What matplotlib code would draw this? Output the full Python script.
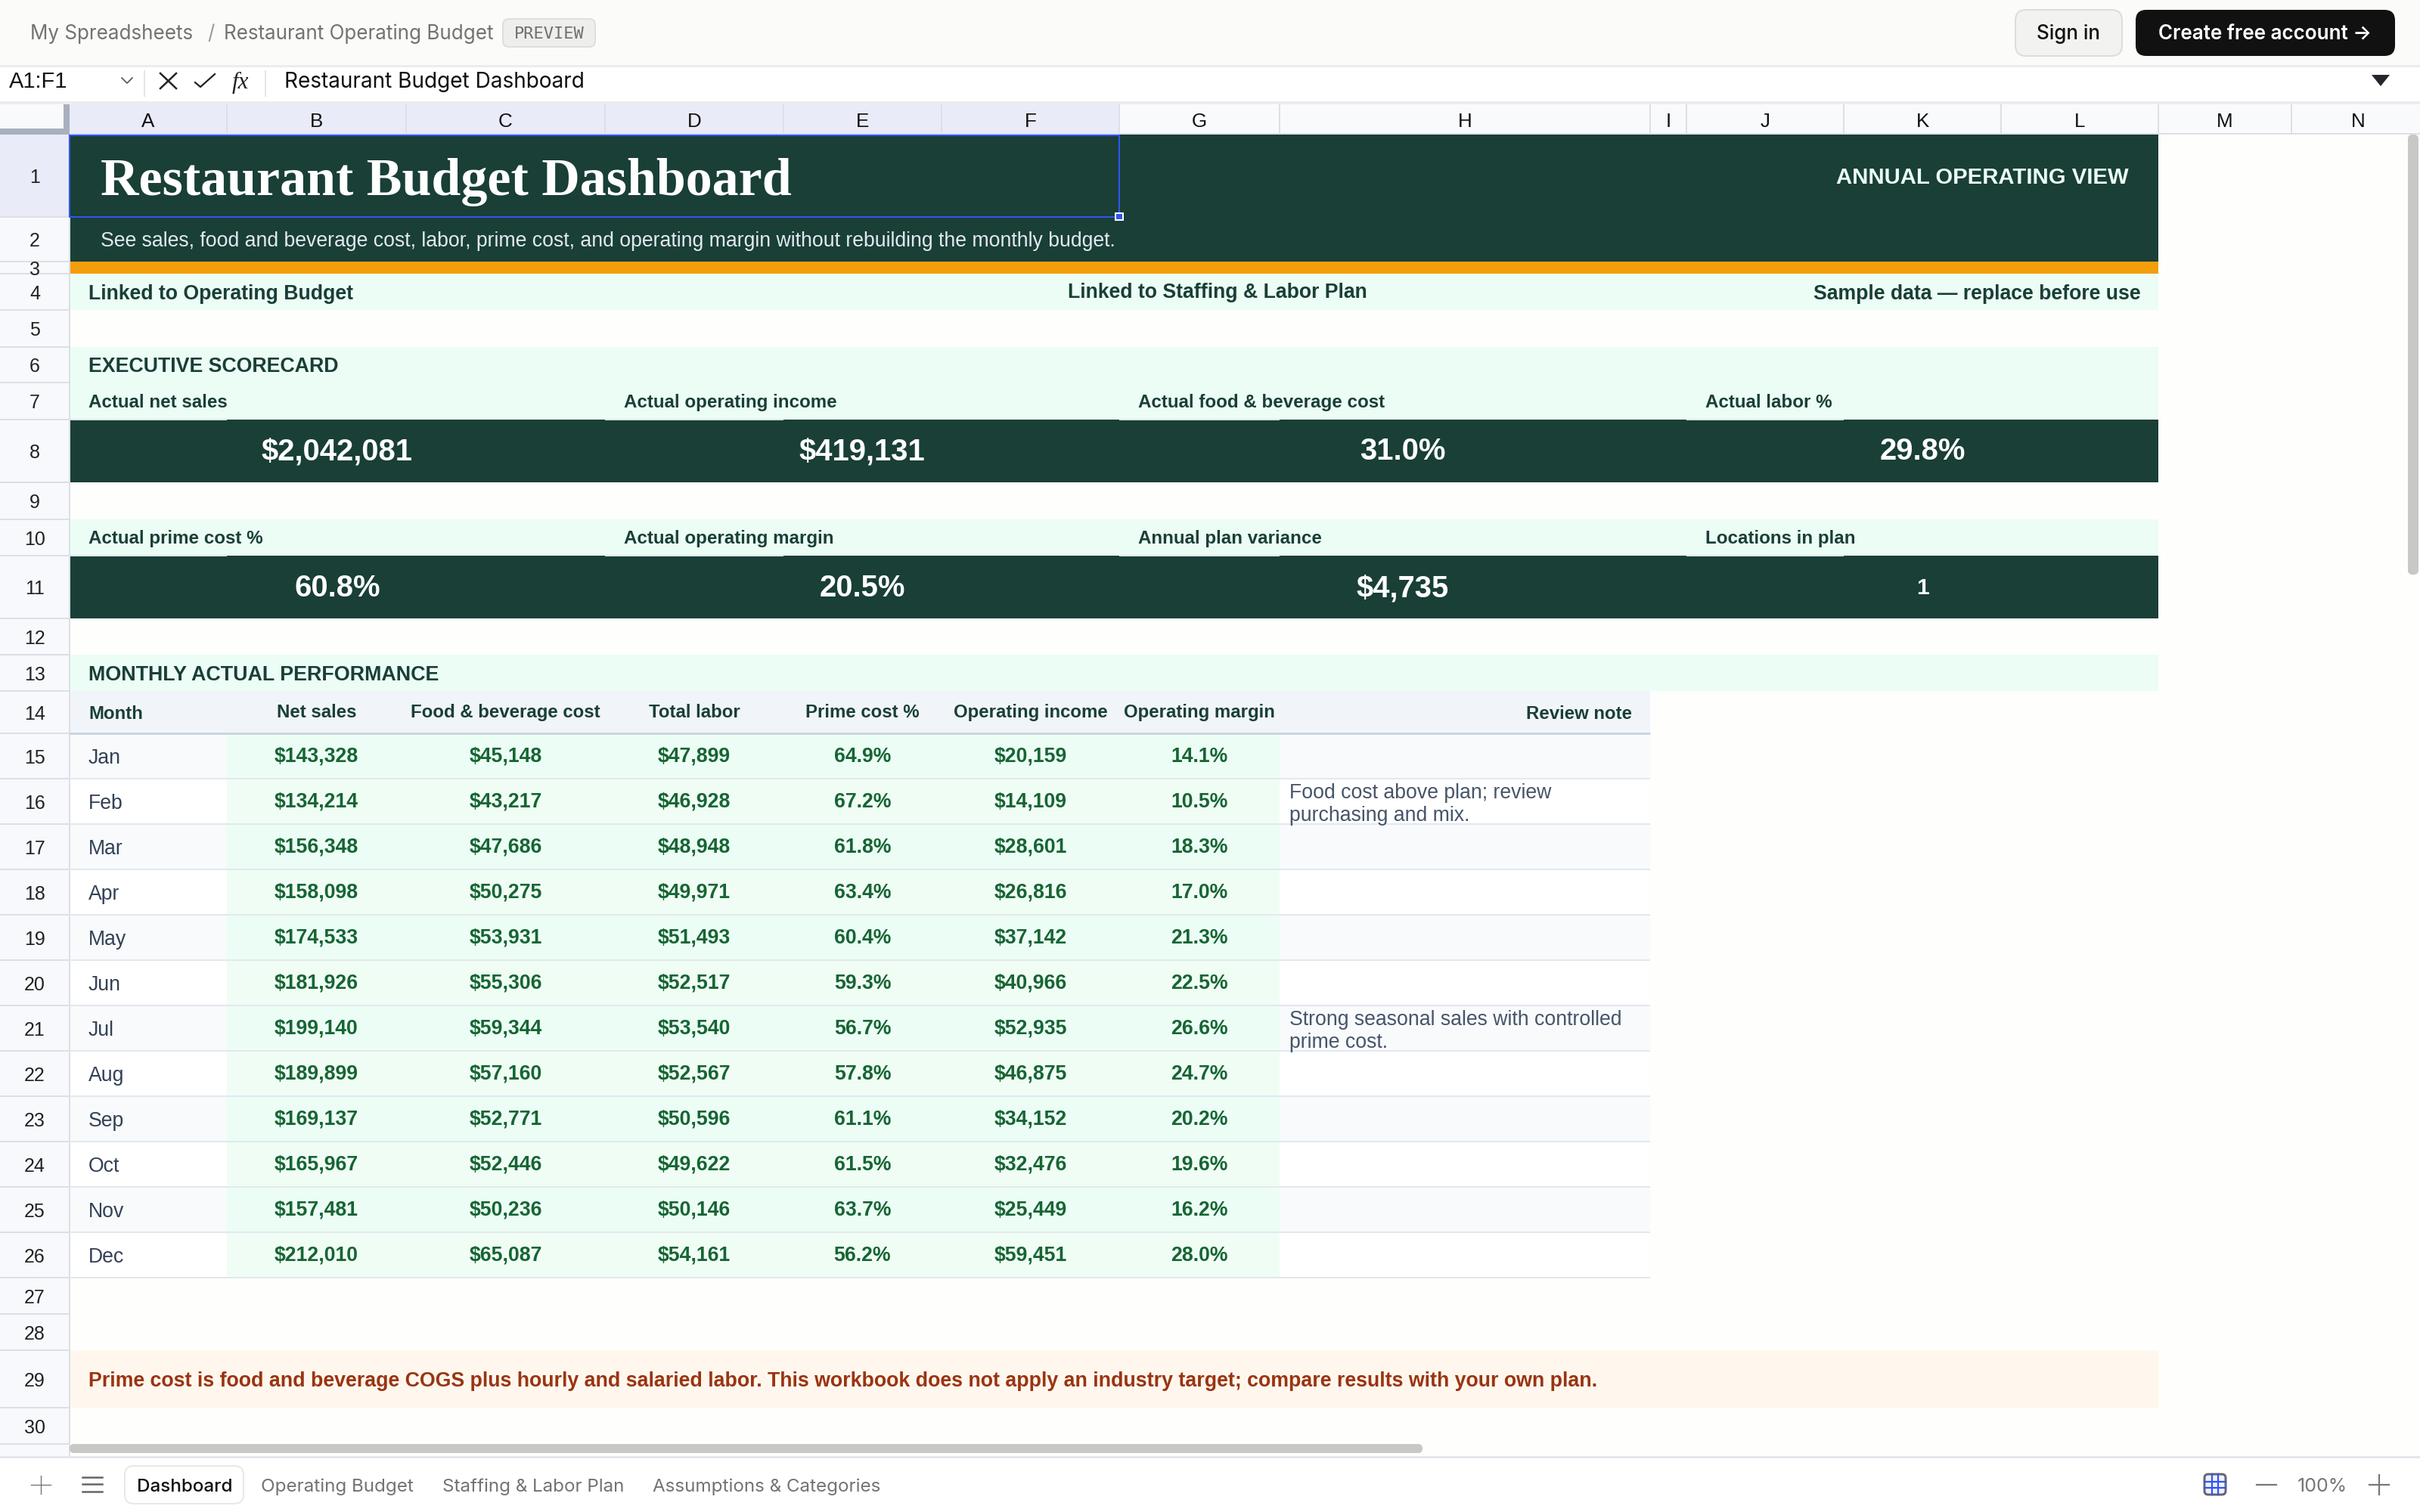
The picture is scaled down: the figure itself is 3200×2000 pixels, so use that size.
import matplotlib
matplotlib.use("Agg")
import matplotlib.pyplot as plt
from matplotlib.patches import Rectangle, FancyBboxPatch, Polygon

# column + row layout of the sheet, in output pixels
col_names = list("ABCDEFGHIJKLMN")
col_edges = [92, 300, 537, 800, 1036, 1245, 1480, 1692, 2182, 2230, 2438, 2646, 2854, 3030, 3207]
row_edges = [178, 287, 346, 362, 410, 459, 506, 555, 638, 687, 735, 818, 866, 914, 970,
             1030, 1090, 1150, 1210, 1270, 1330, 1390, 1450, 1510, 1570, 1630, 1690,
             1738, 1786, 1862, 1910]

months = ["Jan", "Feb", "Mar", "Apr", "May", "Jun", "Jul", "Aug", "Sep", "Oct", "Nov", "Dec"]
net_sales = [143328, 134214, 156348, 158098, 174533, 181926, 199140, 189899, 169137, 165967, 157481, 212010]
food_cost = [45148, 43217, 47686, 50275, 53931, 55306, 59344, 57160, 52771, 52446, 50236, 65087]
total_labor = [47899, 46928, 48948, 49971, 51493, 52517, 53540, 52567, 50596, 49622, 50146, 54161]
prime_pct = [64.9, 67.2, 61.8, 63.4, 60.4, 59.3, 56.7, 57.8, 61.1, 61.5, 63.7, 56.2]
op_income = [20159, 14109, 28601, 26816, 37142, 40966, 52935, 46875, 34152, 32476, 25449, 59451]
op_margin = [14.1, 10.5, 18.3, 17.0, 21.3, 22.5, 26.6, 24.7, 20.2, 19.6, 16.2, 28.0]
review_notes = {"Feb": ["Food cost above plan; review", "purchasing and mix."],
                "Jul": ["Strong seasonal sales with controlled", "prime cost."]}
table_headers = ["Net sales", "Food & beverage cost", "Total labor", "Prime cost %",
                 "Operating income", "Operating margin"]

kpi_row1_labels = ["Actual net sales", "Actual operating income", "Actual food & beverage cost", "Actual labor %"]
kpi_row1_values = ["$2,042,081", "$419,131", "31.0%", "29.8%"]
kpi_row2_labels = ["Actual prime cost %", "Actual operating margin", "Annual plan variance", "Locations in plan"]
kpi_row2_values = ["60.8%", "20.5%", "$4,735", "1"]
sheet_tabs = ["Dashboard", "Operating Budget", "Staffing & Labor Plan", "Assumptions & Categories"]

DARK = "#193f37"
MINT = "#ecfdf5"
MINT2 = "#f0fdf4"
ORANGE = "#f59e0b"
GRID = "#e2e8f0"
VALUE = "#166534"
BLUE = "#2f55f0"
SANS = "Liberation Sans"
UI = "Inter"
BODY = 26.6

fig = plt.figure(figsize=(16, 10), dpi=200, facecolor="#fefefc")
ax = fig.add_axes([0, 0, 1, 1])
ax.set_xlim(0, 3200)
ax.set_ylim(2000, 0)
ax.axis("off")


def rect(x0, y0, x1, y1, color, z=1):
    p = Rectangle((x0, y0), x1 - x0, y1 - y0, facecolor=color, edgecolor="none", zorder=z)
    ax.add_patch(p)
    return p


def hline(x0, x1, y, color=GRID, lw=2, z=2):
    ax.plot([x0, x1], [y, y], color=color, lw=lw * 0.36, zorder=z, solid_capstyle="butt")


def vline(x, y0, y1, color=GRID, lw=2, z=2):
    ax.plot([x, x], [y0, y1], color=color, lw=lw * 0.36, zorder=z, solid_capstyle="butt")


def label(x, y, s, px=26, color="black", weight="normal", ha="left", family=SANS, z=5, clip=None):
    # y is the text centre; go through the baseline so every row lines up
    t = ax.text(x, y + px * 0.36, s, fontsize=px * 0.36, color=color, fontweight=weight,
                ha=ha, va="baseline", family=family, zorder=z)
    if clip is not None:
        t.set_clip_path(clip)
    return t


def round_box(x0, y0, x1, y1, face, edge="none", r=12, lw=2, z=3):
    ax.add_patch(FancyBboxPatch((x0, y0), x1 - x0, y1 - y0, boxstyle=f"round,pad=0,rounding_size={r}",
                                facecolor=face, edgecolor=edge, lw=lw * 0.36, zorder=z))


# top bar
rect(0, 0, 3200, 86, "#fbfbfa")
rect(0, 86, 3200, 89, "#ececec")
label(40, 43, "My Spreadsheets", 26, "#73736f", family=UI)
label(274, 43, "/", 26, "#9a9a96", family=UI)
label(296, 43, "Restaurant Operating Budget", 26, "#73736f", family=UI)
round_box(665, 25, 787, 62, "#eeeeec", "#dededc", r=8)
label(726, 43, "PREVIEW", 22, "#6f6f6b", ha="center", family="DejaVu Sans Mono")
round_box(2665, 13, 2806, 74, "#f2f2f0", "#dcdcda", r=14)
label(2735, 43, "Sign in", 26, "#111111", "medium", "center", UI)
round_box(2824, 13, 3167, 74, "#111111", r=14)
label(2995, 43, "Create free account →", 26, "white", "semibold", "center", UI)

# formula bar
rect(0, 89, 3200, 134, "#ffffff")
rect(0, 134, 3200, 138, "#ececee")
label(12, 106, "A1:F1", 29, "#111111")
ax.plot([161, 168, 175], [103, 110, 103], color="#555555", lw=0.6, zorder=5)
vline(191, 93, 128, "#e6e6e6")
ax.plot([212, 233], [97, 117], color="#222222", lw=0.9, zorder=5)
ax.plot([212, 233], [117, 97], color="#222222", lw=0.9, zorder=5)
ax.plot([258, 265, 284], [109, 115, 98], color="#222222", lw=0.8, zorder=5)
label(307, 106, "fx", 31, "#222222", family="Liberation Serif").set_style("italic")
vline(351, 93, 128, "#e6e6e6")
label(376, 106, "Restaurant Budget Dashboard", 28, "#111111", family=UI)
ax.add_patch(Polygon([[3136, 99], [3160, 99], [3148, 114]], closed=True, facecolor="#24262d", zorder=5))

# empty sheet background, headers
rect(92, 178, 3200, 1927, "#fefefc", 0)
rect(0, 138, 3200, 178, "#f9fafc")
rect(0, 178, 92, 1927, "#f8f9fc")
rect(col_edges[0], 138, col_edges[6], 178, "#e9ebf8", 2)
rect(0, 178, 92, 287, "#e9ebf8", 2)
rect(84, 138, 92, 178, "#a9afbe", 3)
rect(0, 170, 92, 178, "#a9afbe", 3)
hline(0, 3200, 177, "#dddfe5")
vline(92, 178, 1927, "#dddfe5")

for i, name in enumerate(col_names):
    label((col_edges[i] + col_edges[i + 1]) / 2, 159, name, 26, "#111111", ha="center")
    vline(col_edges[i + 1], 138, 178, "#dddfe5")

for i in range(len(row_edges) - 1):
    label(46, (row_edges[i] + row_edges[i + 1]) / 2 + 1, str(i + 1), 25, "#222222", ha="center")
    hline(0, 92, row_edges[i + 1], "#dddfe5")

left, right = col_edges[0], col_edges[12]

# banner
rect(left, 178, right, 346, DARK)
rect(left, 346, right, 362, ORANGE)
label(133, 233, "Restaurant Budget Dashboard", 70, "white", "bold", family="Liberation Serif")
label(133, 316, "See sales, food and beverage cost, labor, prime cost, and operating margin without rebuilding the monthly budget.",
      BODY, "#e2e8f0")
label(2815, 232, "ANNUAL OPERATING VIEW", 29.3, "#ecfdf5", "bold", "right")

# link strip
rect(left, 362, right, 410, MINT)
label(117, 386, "Linked to Operating Budget", BODY, DARK, "bold")
label(1610, 384, "Linked to Staffing & Labor Plan", BODY, DARK, "bold", "center")
label(2831, 386, "Sample data — replace before use", BODY, DARK, "bold", "right")

# scorecard
kpi_label_x = [117, 825, 1505, 2255]
kpi_value_x = [446, 1140, 1855, 2542]
kpi_line = [(92, 300), (800, 1036), (1480, 1692), (2230, 2438)]

rect(left, 459, right, 555, MINT)
label(117, 482, "EXECUTIVE SCORECARD", 26.8, DARK, "bold")
rect(left, 555, right, 638, DARK)
for x, s in zip(kpi_label_x, kpi_row1_labels):
    label(x, 530, s, 24.2, DARK, "bold")
for x, s in zip(kpi_value_x, kpi_row1_values):
    label(x, 594, s, 40, "white", "bold", "center")

rect(left, 687, right, 735, MINT)
rect(left, 735, right, 818, DARK)
for x, s in zip(kpi_label_x, kpi_row2_labels):
    label(x, 710, s, 24.2, DARK, "bold")
for x, s, px in zip(kpi_value_x, kpi_row2_values, [40, 40, 40, 30]):
    label(x, 775, s, px, "white", "bold", "center")
for x0, x1 in kpi_line:
    hline(x0, x1, 555, "#dfe5e6", z=3)
    hline(x0, x1, 735, "#dfe5e6", z=3)

# monthly table
table_right = col_edges[8]
rect(left, 866, right, 914, MINT)
label(117, 890, "MONTHLY ACTUAL PERFORMANCE", 26.9, DARK, "bold")
rect(left, 914, table_right, 970, "#f1f5f9")
hline(left, table_right, 970, "#cbd5e1", lw=3, z=3)
label(117, 942, "Month", 24, DARK, "bold")
for i, h in enumerate(table_headers):
    label((col_edges[i + 1] + col_edges[i + 2]) / 2, 940, h, 24, DARK, "bold", "center")
label(2158, 942, "Review note", 24, DARK, "bold", "right")

value_cols = [
    [f"${v:,}" for v in net_sales],
    [f"${v:,}" for v in food_cost],
    [f"${v:,}" for v in total_labor],
    [f"{v:.1f}%" for v in prime_pct],
    [f"${v:,}" for v in op_income],
    [f"{v:.1f}%" for v in op_margin],
]

for r, month in enumerate(months):
    y0, y1 = row_edges[14 + r], row_edges[15 + r]
    yc = (y0 + y1) / 2
    base = "#f8fafc" if r % 2 == 0 else "#ffffff"
    rect(left, y0, col_edges[1], y1, base)
    rect(col_edges[1], y0, col_edges[7], y1, MINT if r % 2 == 0 else MINT2)
    cell = rect(col_edges[7], y0, table_right, y1, base)
    hline(left, table_right, y1)
    label(117, yc, month, BODY, "#334155")
    for c, col in enumerate(value_cols):
        label((col_edges[c + 1] + col_edges[c + 2]) / 2, yc - 2, col[r], BODY, VALUE, "bold", "center")
    if month in review_notes:
        first, second = review_notes[month]
        label(1705, y0 + 16, first, BODY, "#475569")
        label(1705, y0 + 46, second, BODY, "#475569", clip=cell)

# footnote
rect(left, 1786, right, 1862, "#fff7ed")
label(117, 1824, "Prime cost is food and beverage COGS plus hourly and salaried labor. This workbook does not apply an industry target; compare results with your own plan.",
      26.7, "#9a3412", "bold")

# selection box around A1:F1
ax.plot([92, 1480, 1480, 92, 92], [179, 179, 287, 287, 179], color=BLUE, lw=0.75, zorder=6)
rect(1474, 281, 1486, 292, "white", 7)
rect(1476, 283, 1484, 290, BLUE, 8)

# scrollbars
round_box(3184, 178, 3198, 760, "#c8c8c6", r=6)
round_box(92, 1910, 1881, 1922, "#c8c8c6", r=6)

# bottom bar
rect(0, 1927, 3200, 2000, "#ffffff")
rect(0, 1926, 3200, 1929, "#e6e6ec", 3)
ax.plot([54, 54], [1952, 1976], color="#777777", lw=0.5, zorder=5)
ax.plot([41, 67], [1964, 1964], color="#777777", lw=0.5, zorder=5)
for y in [1954, 1963, 1973]:
    ax.plot([109, 135], [y, y], color="#666666", lw=0.9, zorder=5)
round_box(165, 1939, 322, 1989, "white", "#e8e8e8", r=12)
for x, s, c in zip([244, 446, 705, 1014], sheet_tabs, ["#111111", "#73736f", "#73736f", "#73736f"]):
    label(x, 1964, s, 24.2, c, "medium" if c == "#111111" else "normal", "center", UI)

round_box(2915, 1950, 2943, 1977, "#eef1fc", "#666670", r=5, lw=3)
for x in [2925, 2933]:
    ax.plot([x, x], [1950, 1977], color=BLUE, lw=0.8, zorder=5)
for y in [1960, 1968]:
    ax.plot([2915, 2943], [y, y], color=BLUE, lw=0.8, zorder=5)
ax.plot([2984, 3010], [1964, 1964], color="#777777", lw=0.8, zorder=5)
label(3071, 1964, "100%", 25, "#777777", ha="center", family=UI)
ax.plot([3133, 3159], [1964, 1964], color="#777777", lw=0.8, zorder=5)
ax.plot([3146, 3146], [1951, 1977], color="#777777", lw=0.8, zorder=5)

fig.savefig("out.png", dpi=200, facecolor=fig.get_facecolor())
